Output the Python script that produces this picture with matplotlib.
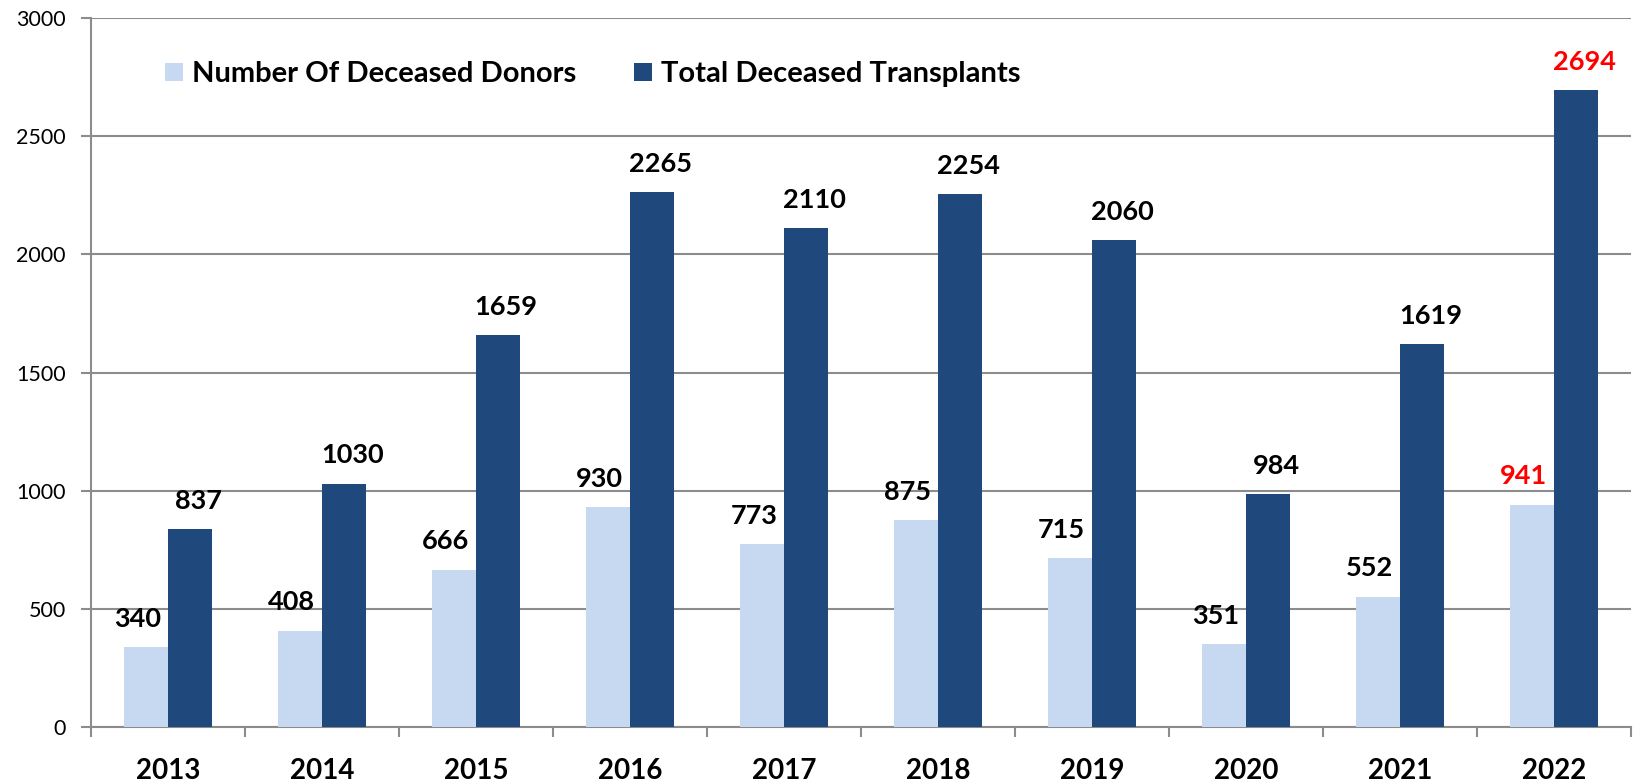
import numpy as np
import matplotlib
matplotlib.use("Agg")
import matplotlib.pyplot as plt

plt.rcParams['font.family'] = ['Lato', 'DejaVu Sans']

# data
years = ['2013', '2014', '2015', '2016', '2017', '2018', '2019', '2020', '2021', '2022']
donors = [340, 408, 666, 930, 773, 875, 715, 351, 552, 941]
transplants = [837, 1030, 1659, 2265, 2110, 2254, 2060, 984, 1619, 2694]
highlight_year = '2022'

light = '#C6D9F1'
dark = '#1F497D'
grid_col = '#8C8C8C'

fig = plt.figure(figsize=(16.45, 7.84), dpi=100)
ax = fig.add_axes([0.0553, 0.0727, 0.9362, 0.9043])

x = np.arange(len(years))
w = 0.285
b1 = ax.bar(x - w / 2, donors, w, color=light, label='Number Of Deceased Donors', zorder=3)
b2 = ax.bar(x + w / 2, transplants, w, color=dark, label='Total Deceased Transplants', zorder=3)

# value labels above bars (light ones nudged left, dark ones right, like the original)
for bars, vals, dx in [(b1, donors, -6), (b2, transplants, 6)]:
    for rect, v, yr in zip(bars, vals, years):
        col = 'red' if yr == highlight_year else 'black'
        ax.annotate(str(v), (rect.get_x() + rect.get_width() / 2, v),
                    xytext=(dx, 14.5), textcoords='offset points',
                    ha='center', va='baseline', fontsize=19.5,
                    fontweight='bold', color=col)

ax.set_xlim(-0.5, len(years) - 0.5)
ax.set_ylim(0, 3000)
ax.set_yticks(np.arange(0, 3001, 500))
ax.yaxis.grid(True, color=grid_col, linewidth=1.5, zorder=0)

# category boundary ticks on x axis
ax.set_xticks(np.arange(-0.5, len(years) + 0.5, 1))
ax.set_xticklabels([])
ax.set_xticks(x, minor=True)
ax.set_xticklabels(years, minor=True, fontsize=20, fontweight='bold')
ax.tick_params(axis='x', which='major', length=7, width=1.5, color=grid_col)
ax.tick_params(axis='x', which='minor', length=0, pad=22)
ax.tick_params(axis='y', length=7, width=1.5, color=grid_col, labelsize=15.5, pad=11)

for s in ['top', 'right']:
    ax.spines[s].set_visible(False)
for s in ['left', 'bottom']:
    ax.spines[s].set_color(grid_col)
    ax.spines[s].set_linewidth(1.5)

ax.legend(loc='upper left', bbox_to_anchor=(0.031, 0.976), ncol=2, frameon=False,
          prop={'size': 21, 'weight': 'bold'}, handlelength=0.62, handleheight=0.62,
          handletextpad=0.3, columnspacing=2.0)

fig.savefig('out.png', dpi=100)
